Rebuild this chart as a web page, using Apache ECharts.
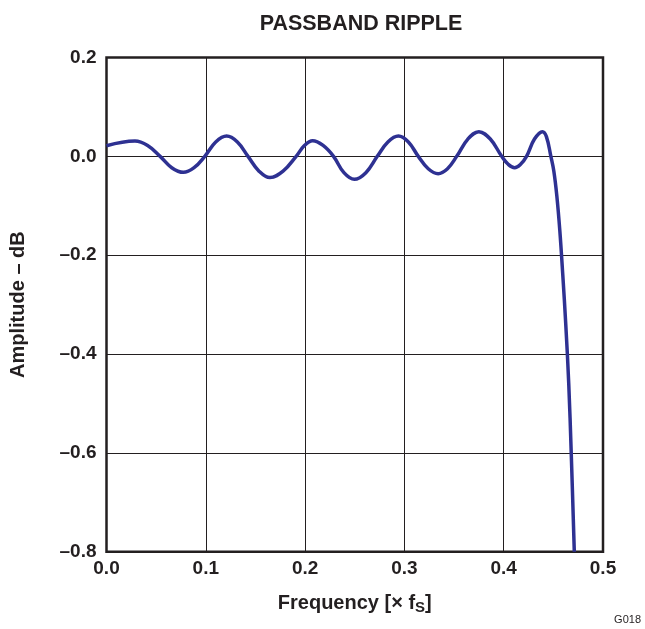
<!DOCTYPE html>
<html>
<head>
<meta charset="utf-8">
<script src="https://cdn.jsdelivr.net/npm/echarts@6/dist/echarts.min.js"></script>
<style>html,body{margin:0;padding:0;background:#fff;}#c{width:645px;height:629px;}</style>
</head>
<body>
<div id="c"></div>
<script>
var freq = [0, 0.0287, 0.0414, 0.054, 0.0657, 0.0774, 0.0882, 0.099, 0.110, 0.121, 0.1318, 0.1425,
  0.1536, 0.1646, 0.1778, 0.191, 0.1993, 0.2076, 0.2181, 0.2286, 0.2391, 0.2496, 0.2612, 0.2727,
  0.2834, 0.294, 0.304, 0.314, 0.324, 0.334, 0.3434, 0.3527, 0.3639, 0.375, 0.3865, 0.398,
  0.4045, 0.411, 0.417, 0.423, 0.431, 0.439, 0.443, 0.4475, 0.4505, 0.4535, 0.4565, 0.4595,
  0.4625, 0.4655, 0.468, 0.4711];
var amplitude = [0.0215, 0.031, 0.022, 0, -0.023, -0.0324, -0.023, 0, 0.029, 0.041, 0.029, 0,
  -0.030, -0.043, -0.030, 0, 0.022, 0.0316, 0.022, 0, -0.033, -0.0466, -0.033, 0,
  0.029, 0.041, 0.029, 0, -0.025, -0.035, -0.025, 0, 0.035, 0.050, 0.035, 0,
  -0.016, -0.023, -0.016, 0, 0.035, 0.050, 0.040, 0, -0.03, -0.08, -0.15, -0.24,
  -0.34, -0.46, -0.60, -0.80];
var xTicks = ['0.0', '0.1', '0.2', '0.3', '0.4', '0.5'];
var yTicks = ['\u20130.8', '\u20130.6', '\u20130.4', '\u20130.2', '0.0', '0.2'];

var txt = '#231f20';
var font = 'Liberation Sans, Arial, Helvetica, sans-serif';
var data = freq.map(function (f, i) { return [f, amplitude[i]]; });

var chart = echarts.init(document.getElementById('c'), null, {renderer: 'canvas'});
chart.setOption({
  animation: false,
  backgroundColor: '#fff',
  title: {
    text: 'PASSBAND RIPPLE',
    left: 356, top: 8, textAlign: 'center',
    textStyle: {fontFamily: font, fontSize: 21.5, fontWeight: 'bold', color: txt}
  },
  grid: {
    left: 106.5, right: 42, top: 57.5, bottom: 77.3,
    show: true, borderColor: '#231f20', borderWidth: 2.5, backgroundColor: 'transparent'
  },
  xAxis: {
    type: 'value', min: 0, max: 0.5, interval: 0.1,
    name: 'Frequency [\u00d7 f{s|S}]',
    nameLocation: 'middle', nameGap: 39,
    nameTextStyle: {
      fontFamily: font, fontSize: 20, fontWeight: 'bold', color: txt,
      rich: {s: {fontFamily: font, fontSize: 15, fontWeight: 'bold', color: txt, padding: [10, 0, 0, 0]}}
    },
    axisLine: {show: false}, axisTick: {show: false},
    axisLabel: {
      margin: 8, fontFamily: font, fontSize: 19, fontWeight: 'bold', color: txt,
      formatter: function (v) { return xTicks[Math.round(v * 10)]; }
    },
    splitLine: {show: true, lineStyle: {color: '#231f20', width: 1}}
  },
  yAxis: {
    type: 'value', min: -0.8, max: 0.2, interval: 0.2,
    name: 'Amplitude \u2013 dB',
    nameLocation: 'middle', nameGap: 78,
    nameTextStyle: {fontFamily: font, fontSize: 20, fontWeight: 'bold', color: txt},
    axisLine: {show: false}, axisTick: {show: false},
    axisLabel: {
      margin: 10, fontFamily: font, fontSize: 19, fontWeight: 'bold', color: txt,
      formatter: function (v) { return yTicks[Math.round((v + 0.8) * 5)]; }
    },
    splitLine: {show: true, lineStyle: {color: '#231f20', width: 1}}
  },
  graphic: [{
    type: 'text', right: 4, bottom: 4,
    style: {text: 'G018', fontFamily: font, fontSize: 11, fill: txt}
  }],
  series: [{
    type: 'line', data: data, smooth: 0.4, showSymbol: false, clip: true,
    lineStyle: {color: '#2e3192', width: 3.5}
  }]
});
</script>
</body>
</html>
